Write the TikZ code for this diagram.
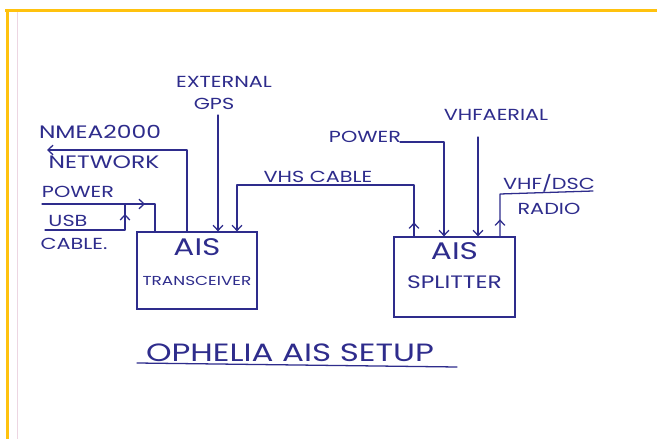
\documentclass[tikz,border=0pt]{standalone}
\usepackage{fontspec}
\setmainfont{Poppins}
\newfontfamily\handfont{Poppins}[FakeStretch=1.3]
\usetikzlibrary{arrows.meta,decorations.markings,positioning}
\definecolor{aisInk}{HTML}{2E2C8C}
\definecolor{aisFrame}{HTML}{FFC20E}
\definecolor{aisMargin}{HTML}{EDD6E2}
\tikzset{
  ais wire/.style={
    draw=aisInk,
    line width=.45mm,
    line cap=round,
    line join=round
  },
  ais arrow/.style={
    ais wire,
    -{Straight Barb[length=1.8mm,width=3.4mm]}
  },
  ais tick/.style={
    postaction={decorate},
    decoration={markings, mark=at position #1 with
      {\arrow[aisInk, line width=.45mm]{Straight Barb[length=1.8mm,width=3.4mm]}}}
  },
  ais box/.style={draw=aisInk, line width=.45mm, inner sep=0pt},
  ais label/.style={font=\handfont\fontsize{16}{18}\selectfont, text=aisInk, inner sep=0pt},
  ais wide/.style={ais label, font=\handfont\fontsize{18}{20}\selectfont},
  ais big/.style={font=\handfont\fontsize{24}{26}\selectfont, text=aisInk, inner sep=0pt},
  ais small/.style={font=\handfont\fontsize{13}{15}\selectfont, text=aisInk, inner sep=0pt},
  ais title/.style={font=\handfont\fontsize{25}{27}\selectfont, text=aisInk, inner sep=0pt}
}

\begin{document}
\begin{tikzpicture}[x=1pt,y=-1pt]
  \useasboundingbox[fill=white] (0,0) rectangle (657,439);
  \draw[aisMargin, line width=.6pt] (17,12) -- (17,439);
  \draw[aisFrame, line width=3pt] (5,10) -- (657,10);
  \draw[aisFrame, line width=3pt] (7,10) -- (7,439);

  % the two units
  \node[ais box, minimum width=120pt, minimum height=77pt] (trx) at (197,270.5) {};
  \node[ais big] (trxA) at ([yshift=-16pt]trx.north) {AIS};
  \node[ais small] (trxB) at ([yshift=-50pt]trx.north) {TRANSCEIVER};
  \node[ais box, minimum width=121pt, minimum height=80pt] (spl) at (454.5,277) {};
  \node[ais big] (splA) at ([yshift=-15pt]spl.north) {AIS};
  \node[ais wide] (splB) at ([yshift=-46pt]spl.north) {SPLITTER};

  % labels
  \node[ais wide] (nmea) at (100,132) {NMEA2000};
  \node[ais wide] (network) at (104,162) {NETWORK};
  \node[ais label] (power) at (78,192) {POWER};
  \node[ais label] (usb) at (68,221) {USB};
  \node[ais label] (cable) at (74,244) {CABLE.};
  \node[ais label] (external) at (224,82) {EXTERNAL};
  \node[ais label] (gps) at (214,104) {GPS};
  \node[ais label] (vhs) at (318,177) {VHS CABLE};
  \node[ais label] (powerR) at (365,137) {POWER};
  \node[ais label] (aerial) at (496,115) {VHFAERIAL};
  \node[ais label] (dsc) at (549,183) {VHF/DSC};
  \node[ais label] (radio) at (549,209) {RADIO};
  \node[ais title] (title) at (290,353) {OPHELIA AIS SETUP};

  \coordinate (nmeaEnd) at (47,150);
  \coordinate (pwrL) at (42,204);
  \coordinate (pwrC) at (155,204);
  \coordinate (usbL) at (45,230);
  \coordinate (usbC) at (125,230);
  \coordinate (gpsTop) at (218,115);
  \coordinate (vhsL) at (237,185);
  \coordinate (vhsR) at (414,185);
  \coordinate (pwrRL) at (400,142);
  \coordinate (pwrRC) at (444,142);
  \coordinate (aerialTop) at (478,137);
  \coordinate (radioC) at (500,194);
  \coordinate (radioEnd) at (593,191);
  \coordinate (ulL) at (137,363);
  \coordinate (ulR) at (457,367);

  % connections
  \draw[ais arrow] ([xshift=-10pt]trx.north) |- (nmeaEnd);
  \draw[ais wire, ais tick=103pt] (pwrL) -- (pwrC) -- (pwrC |- trx.north);
  \draw[ais wire, ais tick=-10pt] (usbL) -- (usbC) -- (usbC |- pwrL);
  \draw[ais arrow] (gpsTop) -- (gpsTop |- trx.north);
  \draw[ais arrow, ais tick=14pt] (vhsR |- spl.north) -- (vhsR) -- (vhsL) -- (vhsL |- trx.north);
  \draw[ais arrow] (pwrRL) -- (pwrRC) -- (pwrRC |- spl.north);
  \draw[ais arrow] (aerialTop) -- (aerialTop |- spl.north);
  \draw[ais wire, ais tick=17pt] (radioC |- spl.north) -- (radioC) -- (radioEnd);
  \draw[ais wire] (ulL) -- (ulR);
\end{tikzpicture}
\end{document}
